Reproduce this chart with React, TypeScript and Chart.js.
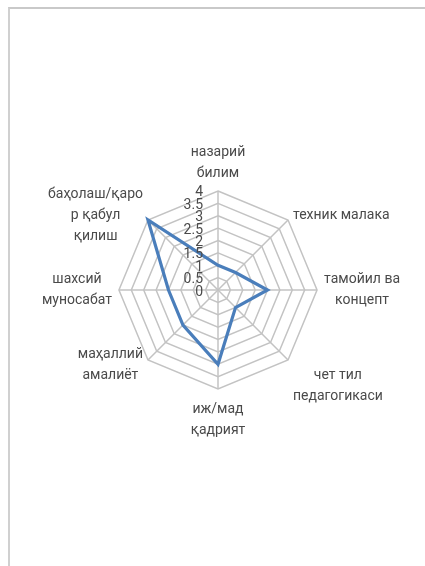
import React, { useEffect, useRef } from "react";
import { Chart, registerables } from "chart.js";

Chart.register(...registerables);

const categories: string[][] = [
  ["назарий", "билим"],
  ["техник малака"],
  ["тамойил ва", "концепт"],
  ["чет тил", "педагогикаси"],
  ["иж/мад", "қадрият"],
  ["маҳаллий", "амалиёт"],
  ["шахсий", "муносабат"],
  ["баҳолаш/қаро", "р қабул", "қилиш"],
];
const seriesValues: number[] = [1, 1, 2, 1, 3, 2, 2, 4];
const axisMin = 0;
const axisMax = 4;
const axisStep = 0.5;

const FONT = "Roboto, 'Open Sans', sans-serif";
const TEXT = "#4a4a4a";
const LABEL_SIZE = 14;
const LINE_H = 21;
const LABEL_PAD = 7;

const textPlugin = {
  id: "customText",
  afterDatasetsDraw(chart: any) {
    const scale = chart.scales.r;
    const ctx = chart.ctx;
    ctx.save();
    ctx.fillStyle = TEXT;
    // tick labels, left of the vertical axis
    ctx.font = `14px ${FONT}`;
    ctx.textAlign = "right";
    ctx.textBaseline = "middle";
    scale.ticks.forEach((t: any) => {
      const d = scale.getDistanceFromCenterForValue(t.value);
      ctx.fillText(String(t.value), scale.xCenter - 15, scale.yCenter - d + 2);
    });
    // point labels, each line centred in its box
    ctx.font = `${LABEL_SIZE}px ${FONT}`;
    ctx.textAlign = "center";
    const labels = chart.data.labels as string[][];
    const n = labels.length;
    labels.forEach((lines, i) => {
      const box = scale.getPointLabelPosition(i);
      const anchor = scale.getPointPosition(i, scale.drawingArea + LABEL_PAD);
      const deg = Math.round((360 / n) * i);
      const h = lines.length * LINE_H;
      let top = box.top;
      if (deg === 45 || deg === 315 || deg === 225) top = anchor.y - h / 2;
      else if (deg === 0) top = box.bottom - h;
      else if (deg === 90 || deg === 270) top = (box.top + box.bottom) / 2 - h / 2;
      else if (deg === 180) top = box.top + 3;
      const cx = (box.left + box.right) / 2;
      lines.forEach((l, k) => ctx.fillText(l, cx, top + LINE_H * k + LINE_H / 2));
    });
    ctx.restore();
  },
};

export default function App() {
  const ref = useRef<HTMLCanvasElement | null>(null);
  useEffect(() => {
    if (!ref.current) return;
    const chart = new Chart(ref.current, {
      type: "radar",
      data: {
        labels: categories,
        datasets: [
          {
            data: seriesValues,
            borderColor: "#4a7ebb",
            borderWidth: 3.2,
            backgroundColor: "rgba(0,0,0,0)",
            fill: false,
            pointRadius: 0,
            tension: 0,
          },
        ],
      },
      options: {
        animation: false,
        responsive: false,
        plugins: { legend: { display: false }, tooltip: { enabled: false } },
        scales: {
          r: {
            min: axisMin,
            max: axisMax,
            ticks: { stepSize: axisStep, display: false },
            grid: { color: "#c3c3c3", lineWidth: 1.5 },
            angleLines: { color: "#c3c3c3", lineWidth: 1.5 },
            pointLabels: {
              color: "rgba(0,0,0,0)",
              font: { family: FONT, size: LABEL_SIZE, lineHeight: LINE_H / LABEL_SIZE },
              padding: LABEL_PAD,
            },
          },
        },
      },
      plugins: [textPlugin],
    });
    return () => chart.destroy();
  }, []);

  const W = 364;
  const H = 364;
  return (
    <div style={{ position: "absolute", left: 0, top: 0, width: 425, height: 566, background: "#fff", overflow: "hidden" }}>
      <div
        style={{
          position: "absolute",
          left: 8,
          top: 7,
          width: 430,
          height: 570,
          borderTop: "2px solid #c9c9c9",
          borderLeft: "2px solid #d0d0d0",
        }}
      />
      <canvas
        ref={ref}
        width={W}
        height={H}
        style={{ position: "absolute", left: 221 - W / 2, top: 290 - H / 2, width: W, height: H }}
      />
    </div>
  );
}
